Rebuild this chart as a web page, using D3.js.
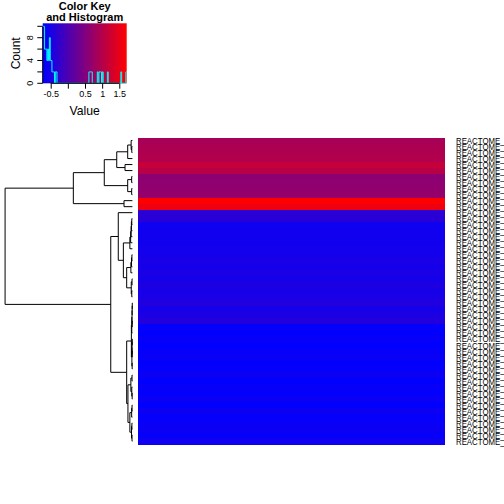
<!DOCTYPE html>
<html><head><meta charset="utf-8">
<script src="https://cdn.jsdelivr.net/npm/d3@7"></script>
<style>html,body{margin:0;padding:0;background:#fff;overflow:hidden}svg{display:block;font-family:"Liberation Sans",Arial,Helvetica,sans-serif}</style>
</head><body><svg id="chart" width="504" height="504"></svg>
<script>
// ---------------- data ----------------
const rowLabels = [
"REACTOME_CELL_CYCLE_MITOTIC","REACTOME_CELL_CYCLE","REACTOME_MITOTIC_M_M_G1_PHASES","REACTOME_DNA_REPLICATION",
"REACTOME_MITOTIC_PROMETAPHASE","REACTOME_CELL_CYCLE_CHECKPOINTS","REACTOME_G2_M_CHECKPOINTS","REACTOME_ACTIVATION_OF_ATR",
"REACTOME_S_PHASE","REACTOME_SYNTHESIS_OF_DNA","REACTOME_E2F_MEDIATED_REGULATION","REACTOME_G1_S_TRANSITION",
"REACTOME_HEMOSTASIS","REACTOME_PLATELET_ACTIVATION","REACTOME_SIGNALING_BY_GPCR","REACTOME_GPCR_LIGAND_BINDING",
"REACTOME_CLASS_A1_RHODOPSIN_LIKE","REACTOME_PEPTIDE_LIGAND_BINDING","REACTOME_IMMUNE_SYSTEM","REACTOME_ADAPTIVE_IMMUNE_SYSTEM",
"REACTOME_INNATE_IMMUNE_SYSTEM","REACTOME_CYTOKINE_SIGNALING","REACTOME_INTERFERON_SIGNALING","REACTOME_METABOLISM_OF_LIPIDS",
"REACTOME_FATTY_ACID_METABOLISM","REACTOME_BIOLOGICAL_OXIDATIONS","REACTOME_PHASE_I_FUNCTIONALIZATION","REACTOME_EXTRACELLULAR_MATRIX",
"REACTOME_COLLAGEN_FORMATION","REACTOME_INTEGRIN_CELL_SURFACE","REACTOME_AXON_GUIDANCE","REACTOME_DEVELOPMENTAL_BIOLOGY",
"REACTOME_NEURONAL_SYSTEM","REACTOME_TRANSMISSION_ACROSS_SYNAPSES","REACTOME_POTASSIUM_CHANNELS","REACTOME_ION_CHANNEL_TRANSPORT",
"REACTOME_SLC_MEDIATED_TRANSPORT","REACTOME_TRANSPORT_OF_SMALL_MOLECULES","REACTOME_MUSCLE_CONTRACTION","REACTOME_SMOOTH_MUSCLE_CONTRACTION",
"REACTOME_CARDIAC_CONDUCTION","REACTOME_KERATINIZATION","REACTOME_OLFACTORY_SIGNALING","REACTOME_SENSORY_PERCEPTION",
"REACTOME_DIGESTION_AND_ABSORPTION","REACTOME_COMPLEMENT_CASCADE","REACTOME_REGULATION_OF_COMPLEMENT","REACTOME_CHEMOKINE_RECEPTORS",
"REACTOME_DEFENSINS","REACTOME_ANTIMICROBIAL_PEPTIDES","REACTOME_SIGNALING_BY_WNT"];
const columns = ["C1", "C2"];
const rowValues = [
 0.88, 0.92, 0.95, 0.98, 1.16, 1.03, 0.62, 0.64, 0.67, 0.70, 1.716, 1.56,
 -0.329, -0.3535,
 -0.596, -0.578, -0.570, -0.566, -0.552, -0.545,
 -0.505, -0.524, -0.480, -0.530, -0.452, -0.516, -0.497, -0.428, -0.520, -0.470, -0.402,
 -0.700, -0.716, -0.664, -0.733, -0.688, -0.647, -0.712, -0.696, -0.623, -0.725,
 -0.680, -0.705, -0.640, -0.720, -0.615, -0.692, -0.655, -0.632, -0.672, -0.600];
// dendrogram: [height, left, right]; leaves are row indices
const dendrogram = [10.0,
  [4.64,
    [2.21,
      [1.23, [0.37, [0.10, 0, [0.05, 1, 2]], 3], [0.58, 4, 5]],
      [0.37, [0.06, 6, 7], [0.06, 8, 9]]],
    [0.66, 10, 11]],
  [1.70,
    [1.11, 12,
      [0.71,
        [0.20, [0.14, [0.10, [0.08, [0.05, 13, 14], 15], 16], 17], 18],
        [0.45, [0.12, [0.07, [0.04, 19, 20], 21], 22], [0.09, [0.03, 23, 24], [0.05, 25, 26]]]]],
    [0.45,
      [0.08, [0.05, [0.03, [0.02, [0.01, 27, 28], 29], [0.015, 30, 31]], 32],
             [0.04, [0.025, [0.01, 33, 34], [0.015, 35, 36]], [0.02, 37, 38]]],
      [0.35, [0.12, [0.03, 39, 40], [0.05, 41, [0.02, 42, 43]]],
             [0.20, [0.06, [0.03, 44, 45], 46], [0.07, [0.04, 47, 48], [0.03, 49, 50]]]]]]];
const keyTicks = [-0.5, 0, 0.5, 1, 1.5];
const keyTickLabels = ["-0.5", "", "0.5", "1", "1.5"];
const countTicks = [0, 2, 4, 6, 8, 10];
const countTickLabels = ["0", "", "4", "", "8", ""];
const nBins = 100;
const titleLines = ["Color Key", "and Histogram"];

// ---------------- drawing ----------------
const svg = d3.select("#chart");
const [vmin, vmax] = d3.extent(rowValues);
const color = d3.scaleLinear().domain([vmin, vmax]).range(["#0000ff", "#ff0000"]).interpolate(d3.interpolateRgb);

// heatmap
const hx = d3.scaleBand().domain(columns).range([137.5, 444.2]);
const hy = d3.scaleBand().domain(d3.range(rowValues.length)).range([137.5, 444.2]);
const cells = [];
rowValues.forEach((v, i) => columns.forEach(c => cells.push({i, c, v})));
svg.append("g").selectAll("rect").data(cells).join("rect")
  .attr("x", d => hx(d.c)).attr("y", d => hy(d.i))
  .attr("width", hx.bandwidth() + 0.6).attr("height", hy.bandwidth() + 0.6)
  .attr("fill", d => color(d.v)).attr("shape-rendering", "crispEdges");

// row labels (tall, narrow glyphs as in the reference)
svg.append("g").selectAll("text").data(rowLabels).join("text")
  .attr("transform", (d, i) => `translate(456,${hy(i) + hy.bandwidth() / 2}) scale(0.8,1)`)
  .attr("dy", "0.36em").attr("font-size", 9.8).attr("fill", "#000").text(d => d);

// dendrogram
const H = dendrogram[0];
const dx = d3.scaleLinear().domain([H * 1.04, -H * 0.04]).range([0, 137.5]);
const dg = svg.append("g").attr("fill", "none").attr("stroke", "#000").attr("stroke-width", 1);
function layout(n) {
  if (typeof n === "number") return {y: hy(n) + hy.bandwidth() / 2, h: 0};
  const a = layout(n[1]), b = layout(n[2]);
  const x = dx(n[0]);
  dg.append("path").attr("d", `M${dx(a.h)},${a.y}H${x}V${b.y}H${dx(b.h)}`);
  return {y: (a.y + b.y) / 2, h: n[0]};
}
layout(dendrogram);

// color key
const kx = d3.scaleLinear().domain([vmin, vmax]).range([42.7, 126.7]);
const ky = d3.scaleLinear().domain([0, 1]).range([83.3, 23.3]);
const grad = svg.append("defs").append("linearGradient").attr("id", "kg");
d3.range(0, 1.0001, 0.05).forEach(t => grad.append("stop").attr("offset", t)
  .attr("stop-color", color(vmin + t * (vmax - vmin))));
svg.append("rect").attr("x", kx(vmin)).attr("y", ky(1)).attr("width", kx(vmax) - kx(vmin))
  .attr("height", ky(0) - ky(1)).attr("fill", "url(#kg)");

// histogram (each value counted once per column)
const bw = (vmax - vmin) / nBins;
const counts = new Array(nBins).fill(0);
rowValues.forEach(v => { const b = Math.min(nBins - 1, Math.floor((v - vmin) / bw + 1e-9)); counts[b] += columns.length; });
const maxC = d3.max(counts);
const hpts = d3.range(nBins + 1).map(k => [vmin + k * bw, k < nBins ? counts[k] : counts[nBins - 1]]);
svg.append("path").datum(hpts)
  .attr("d", d3.line().x(d => kx(d[0])).y(d => ky(d[1] / maxC * 0.95)).curve(d3.curveStepAfter))
  .attr("fill", "none").attr("stroke", "#00ffff").attr("stroke-width", 1);

// x axis of key
const xa = svg.append("g").attr("transform", `translate(0,${ky(0)})`)
  .call(d3.axisBottom(kx).tickValues(keyTicks).tickFormat((d, i) => keyTickLabels[i]).tickSize(5.4).tickPadding(2.3));
xa.select(".domain").remove();
xa.selectAll("text").attr("font-size", 9).attr("font-family", "Liberation Sans, Arial, sans-serif").attr("fill", "#000");
xa.selectAll("line").attr("stroke", "#000");
svg.append("line").attr("x1", kx(keyTicks[0])).attr("x2", kx(keyTicks[keyTicks.length - 1]))
  .attr("y1", ky(0)).attr("y2", ky(0)).attr("stroke", "#000");

// y axis of key
const cy = c => ky(c / maxC * 0.95);
const ya = svg.append("g");
ya.append("line").attr("x1", 42.7).attr("x2", 42.7).attr("y1", cy(countTicks[0])).attr("y2", cy(countTicks[countTicks.length - 1])).attr("stroke", "#000");
ya.selectAll("line.t").data(countTicks).join("line").attr("class", "t")
  .attr("x1", 42.7).attr("x2", 37.3).attr("y1", d => cy(d)).attr("y2", d => cy(d)).attr("stroke", "#000");
ya.selectAll("text").data(countTicks).join("text")
  .attr("transform", d => `translate(32.6,${cy(d)}) rotate(-90)`)
  .attr("text-anchor", "middle").attr("font-size", 9).text((d, i) => countTickLabels[i]);

// labels and title
svg.append("text").attr("transform", "translate(20,53.3) rotate(-90)").attr("text-anchor", "middle")
  .attr("font-size", 12).text("Count");
svg.append("text").attr("x", 84.7).attr("y", 115).attr("text-anchor", "middle").attr("font-size", 12.2).text("Value");
svg.selectAll("text.title").data(titleLines).join("text").attr("class", "title")
  .attr("x", 84.7).attr("y", (d, i) => 10 + i * 10.7).attr("text-anchor", "middle")
  .attr("font-size", 11).attr("font-weight", "bold").text(d => d);
</script></body></html>
